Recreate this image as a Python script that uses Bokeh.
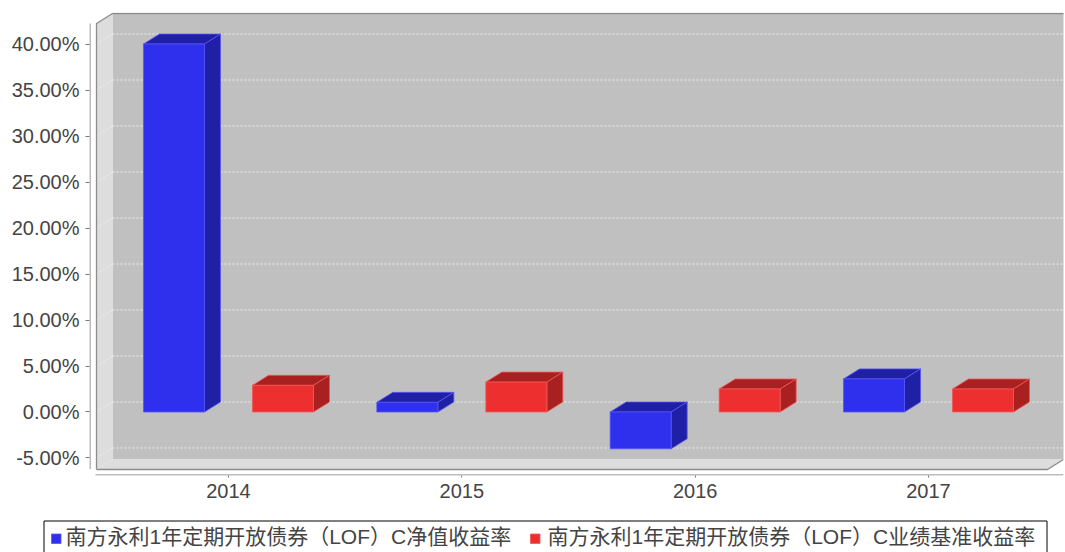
from bokeh.plotting import figure
from bokeh.models import Range1d, FixedTicker, ColumnDataSource
from bokeh.core.properties import value
from bokeh.embed import file_html
from bokeh.resources import INLINE

# ---------------- data ----------------
years = ["2014", "2015", "2016", "2017"]
series_names = [
    "南方永利1年定期开放债券（LOF）C净值收益率",
    "南方永利1年定期开放债券（LOF）C业绩基准收益率",
]
nav_return = [40.0, 1.05, -4.0, 3.6]          # %
benchmark_return = [2.9, 3.25, 2.5, 2.5]      # %
y_ticks = [-5, 0, 5, 10, 15, 20, 25, 30, 35, 40]
y_tick_labels = ["-5.00%", "0.00%", "5.00%", "10.00%", "15.00%", "20.00%",
                 "25.00%", "30.00%", "35.00%", "40.00%"]

# ---------------- geometry (3D look) ----------------
PX_X = 233.333          # pixels per category
PX_Y = 9.2              # pixels per percent
DX = 16 / PX_X          # depth offset, x
DY = 10 / PX_Y          # depth offset, y
FL, FR = -0.5657, 3.510     # front left / right of plot box
BOT, TOP = -6.25, 42.23     # front bottom / top of plot box
BAR_W = 61 / PX_X
BAR_OFF = 54.5 / PX_X

BLUE, BLUE_D, BLUE_L = "#2f2fee", "#2020a6", "#5555f5"
RED, RED_D, RED_L = "#ee2f2f", "#a82020", "#f55555"
colors = [(BLUE, BLUE_D, BLUE_L), (RED, RED_D, RED_L)]

p = figure(width=1065, height=507, output_backend="svg", toolbar_location=None,
           x_range=Range1d(-0.5957, 3.5786), y_range=Range1d(-6.9022, 43.424),
           min_border_left=89, min_border_right=2, min_border_top=12,
           min_border_bottom=32)
p.outline_line_color = None
p.background_fill_color = "white"
p.border_fill_color = "white"
p.xgrid.visible = False
p.ygrid.visible = False

# walls
p.quad(left=[FL + DX], right=[FR + DX + 0.2], bottom=[BOT + DY], top=[TOP + DY],
       fill_color="#c0c0c0", line_color=None)
p.patch([FL, FL, FL + DX, FL + DX], [BOT, TOP, TOP + DY, BOT + DY],
        fill_color="#dddddd", line_color=None)
p.patch([FL, FR, FR + DX, FL + DX], [BOT, BOT, BOT + DY, BOT + DY],
        fill_color="#dddddd", line_color=None)

# grid lines (back wall + left wall diagonals)
gy = [t + DY for t in y_ticks]
p.segment(x0=[FL + DX] * len(y_ticks), y0=gy, x1=[FR + DX + 0.2] * len(y_ticks), y1=gy,
          line_color="white", line_alpha=0.75, line_dash="2 2", line_width=1)
p.segment(x0=[FL] * len(y_ticks), y0=y_ticks, x1=[FL + DX] * len(y_ticks), y1=gy,
          line_color="white", line_alpha=0.5, line_dash="2 2", line_width=1)

# outline of plot box
OUT = "#8c8c8c"
p.line([FL, FL, FL + DX, FR + DX + 0.2], [BOT, TOP, TOP + DY, TOP + DY],
       line_color=OUT, line_width=1.3)
p.line([FL, FR, FR + DX], [BOT, BOT, BOT + DY], line_color=OUT, line_width=1.3)

# bars
def bars(values, offset, front, dark, light):
    xc = [i + offset for i in range(len(values))]
    left = [x - BAR_W / 2 for x in xc]
    right = [x + BAR_W / 2 for x in xc]
    lo = [min(v, 0) for v in values]
    hi = [max(v, 0) for v in values]
    top_xs = [[l, r, r + DX, l + DX] for l, r in zip(left, right)]
    top_ys = [[h, h, h + DY, h + DY] for h in hi]
    side_xs = [[r, r, r + DX, r + DX] for r in right]
    side_ys = [[a, b, b + DY, a + DY] for a, b in zip(lo, hi)]
    p.patches(top_xs, top_ys, fill_color=dark, line_color=light, line_width=0.8)
    p.patches(side_xs, side_ys, fill_color=dark, line_color=light, line_width=0.8)
    src = ColumnDataSource(dict(left=left, right=right, bottom=lo, top=hi))
    return p.quad(left="left", right="right", bottom="bottom", top="top", source=src,
                  fill_color=front, line_color=light, line_width=0.8)

bars(nav_return, -BAR_OFF, *colors[0])
bars(benchmark_return, BAR_OFF, *colors[1])

# axis lines (drawn in data space so they sit like the original)
AX = "#7a7a7a"
p.line([-0.5936, -0.5936], [TOP, BOT + 0.05], line_color=AX, line_width=1)
p.line([-0.570, 3.5786], [-6.848, -6.848], line_color=AX, line_width=1)

# axes
p.yaxis.ticker = FixedTicker(ticks=y_ticks)
p.yaxis.major_label_overrides = {t: s for t, s in zip(y_ticks, y_tick_labels)}
p.yaxis.axis_line_color = None
p.yaxis.major_tick_out = 4
p.yaxis.major_tick_in = 0
p.yaxis.minor_tick_line_color = None
p.yaxis.major_tick_line_color = AX
p.yaxis.major_label_standoff = 6
p.yaxis.major_label_text_font = "Liberation Sans"
p.yaxis.major_label_text_font_size = "20px"
p.yaxis.major_label_text_color = "#444444"

p.xaxis.ticker = FixedTicker(ticks=list(range(len(years))))
p.xaxis.major_label_overrides = {i: y for i, y in enumerate(years)}
p.xaxis.axis_line_color = None
p.xaxis.major_tick_out = 2
p.xaxis.major_tick_in = 0
p.xaxis.minor_tick_line_color = None
p.xaxis.major_tick_line_color = AX
p.xaxis.major_label_standoff = 6
p.xaxis.major_label_text_font = "Liberation Sans"
p.xaxis.major_label_text_font_size = "20px"
p.xaxis.major_label_text_color = "#444444"

# ---------------- legend strip (pixel coordinates, y downwards) ----------------
lg = figure(width=1065, height=45, output_backend="svg", toolbar_location=None,
            x_range=Range1d(0, 1065), y_range=Range1d(45, 0),
            x_axis_type=None, y_axis_type=None,
            min_border_left=0, min_border_right=0, min_border_top=0,
            min_border_bottom=0)
lg.outline_line_color = None
lg.xgrid.visible = False
lg.ygrid.visible = False
lg.background_fill_color = "white"
lg.border_fill_color = "white"

lg.quad(left=[43.5], right=[1046.5], top=[13.5], bottom=[60],
        fill_color="white", line_color="black", line_width=1)
swatch_x = [51, 530]
label_x = [65, 547]
lg.quad(left=swatch_x, right=[x + 9.5 for x in swatch_x], top=[26.5, 26.5],
        bottom=[36, 36], fill_color=[c[0] for c in colors],
        line_color=[c[2] for c in colors], line_width=0.8)
lg.text(x=label_x, y=[29, 29], text=series_names,
        text_font=value("Liberation Sans, Noto Sans CJK SC"),
        text_font_size="21px", text_color="#444444",
        text_baseline="middle", text_align="left")

open("out.html", "w").write(file_html([p, lg], INLINE))
